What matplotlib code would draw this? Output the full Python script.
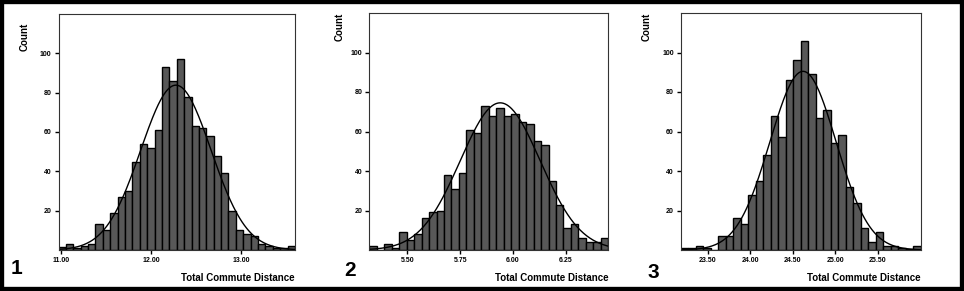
import matplotlib.pyplot as plt
import numpy as np
from matplotlib.patches import Rectangle

plt.rcParams["font.family"] = ["Liberation Sans", "DejaVu Sans"]
plt.rcParams["font.weight"] = "bold"

# ---- data (32 bins each) ----
counts1 = [1.5, 3, 1, 2, 3, 13, 10, 19, 27, 30, 45, 54, 52, 61, 93, 86,
           97, 78, 63, 62, 58, 48, 39, 20, 10, 8, 7, 3, 2, 1, 1, 2]
range1 = (10.97, 13.60)
ticks1 = [11.0, 12.0, 13.0]

counts2 = [2, 0, 3, 1, 9, 5, 8, 16, 19, 20, 38, 31, 39, 61, 59, 73,
           68, 72, 68, 69, 65, 64, 55, 53, 35, 23, 11, 13, 6, 4, 4, 6]
range2 = (5.32, 6.451)
ticks2 = [5.50, 5.75, 6.00, 6.25]

counts3 = [1, 1, 2, 1, 0, 7, 7, 16, 13, 28, 35, 48, 68, 57, 86, 96,
           106, 89, 67, 71, 54, 58, 32, 24, 11, 4, 9, 2, 2, 1, 0.5, 2]
range3 = (23.18, 26.01)
ticks3 = [23.5, 24.0, 24.5, 25.0, 25.5]

panel_ids = ["1", "2", "3"]
xlabel = "Total Commute Distance"
ylabel = "Count"
yticks = [20, 40, 60, 80, 100]

W, H = 964, 291
fig = plt.figure(figsize=(W / 100, H / 100), dpi=100)

# axes boxes in pixels: left, right, top, bottom
boxes = [(58.5, 295, 14, 250), (369.3, 608.3, 13, 250), (680.7, 921, 13, 250)]
count_pos = [(25, 37), (340, 27), (647, 27)]
num_pos = [(16, 268), (350, 271), (653, 273)]

panels = [(counts1, range1, ticks1), (counts2, range2, ticks2), (counts3, range3, ticks3)]

for i, (counts, xr, xt) in enumerate(panels):
    l, r, t, b = boxes[i]
    ax = fig.add_axes([l / W, (H - b) / H, (r - l) / W, (b - t) / H])
    counts = np.array(counts, dtype=float)
    edges = np.linspace(xr[0], xr[1], len(counts) + 1)
    mids = 0.5 * (edges[:-1] + edges[1:])
    bw = edges[1] - edges[0]
    ax.bar(edges[:-1], counts, width=bw, align="edge", color="#585858",
           edgecolor="black", linewidth=1.0)

    # normal curve fitted to the binned data
    n = counts.sum()
    mu = (counts * mids).sum() / n
    sd = np.sqrt((counts * (mids - mu) ** 2).sum() / n)
    xs = np.linspace(xr[0], xr[1], 300)
    ax.plot(xs, n * bw * np.exp(-0.5 * ((xs - mu) / sd) ** 2) / (sd * np.sqrt(2 * np.pi)),
            color="black", linewidth=1.0)

    ax.set_xlim(xr)
    ax.set_ylim(0, 120)
    ax.set_xticks(xt)
    ax.set_xticklabels(["%.2f" % v for v in xt])
    ax.set_yticks(yticks)
    ax.tick_params(labelsize=5, length=3, width=1, pad=2, color="black")
    for s in ax.spines.values():
        s.set_linewidth(0.8)
        s.set_color("#333333")

    fig.text(r / W, 1 - 278 / H, xlabel, ha="right", va="center",
             fontsize=7, fontweight="bold")
    cx, cy = count_pos[i]
    fig.text(cx / W, 1 - cy / H, ylabel, ha="center", va="center",
             rotation=90, fontsize=7, fontweight="bold")
    nx, ny = num_pos[i]
    fig.text(nx / W, 1 - ny / H, panel_ids[i], ha="center", va="center",
             fontsize=15, fontweight="bold")

fig.patches.append(Rectangle((0, 0), 1, 1, transform=fig.transFigure,
                             fill=False, edgecolor="black", linewidth=6))

fig.savefig("out.png", dpi=100)
